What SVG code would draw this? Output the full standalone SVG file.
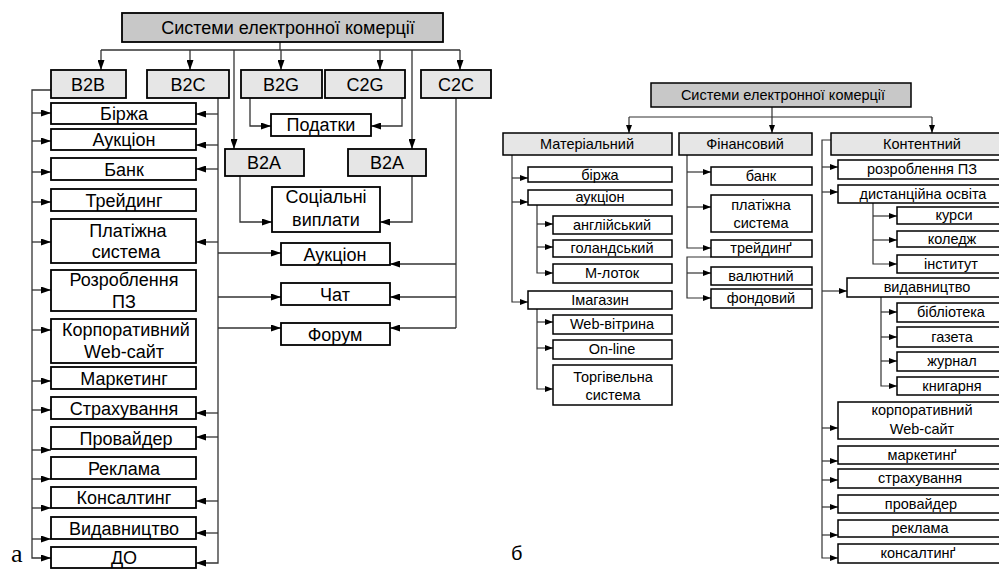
<svg xmlns="http://www.w3.org/2000/svg" width="999" height="569" viewBox="0 0 999 569">
<defs>
<marker id="a1" markerUnits="userSpaceOnUse" markerWidth="10" markerHeight="7" refX="10" refY="3.5" orient="auto"><path d="M0,0 L10,3.5 L0,7 z" fill="#000"/></marker>
<marker id="a2" markerUnits="userSpaceOnUse" markerWidth="8" markerHeight="6" refX="8" refY="3" orient="auto"><path d="M0,0 L8,3 L0,6 z" fill="#000"/></marker>
<style>
.L{font-family:"Liberation Sans",Arial,sans-serif;font-size:18px;text-anchor:middle;fill:#000}
.R{font-family:"Liberation Sans",Arial,sans-serif;font-size:14.5px;text-anchor:middle;fill:#000}
.b{fill:#fff;stroke:#000;stroke-width:1.8}
.h{fill:#e6e6e6;stroke:#000;stroke-width:1.8}
.t{fill:#c8c8c8;stroke:#000;stroke-width:1.8}
.rb{fill:#fff;stroke:#000;stroke-width:1.5}
.rh{fill:#e6e6e6;stroke:#000;stroke-width:1.5}
.rt{fill:#c8c8c8;stroke:#000;stroke-width:1.5}
.c1{fill:none;stroke:#333;stroke-width:1.3;marker-end:url(#a1)}
.c0{fill:none;stroke:#333;stroke-width:1.3}
.c2{fill:none;stroke:#333;stroke-width:1.2;marker-end:url(#a2)}
.c3{fill:none;stroke:#333;stroke-width:1.2}
</style>
</defs>

<g id="connectors-a">
<path class="c0" d="M280,42 V50 M101,50 H460"/>
<path class="c1" d="M101,50 V70"/><path class="c1" d="M190,50 V70"/><path class="c1" d="M281,50 V70"/><path class="c1" d="M380,50 V70"/><path class="c1" d="M460,50 V70"/>
<path class="c1" d="M234,50 V149"/><path class="c1" d="M412,50 V149"/>
<path class="c1" d="M250,98 V126 H271"/><path class="c1" d="M402,98 V126 H371"/>
<path class="c1" d="M240,176 V222 H272"/><path class="c1" d="M412,176 V222 H380"/>
<path class="c1" d="M51,90 H32 V558 H51"/>
<path class="c1" d="M32,113 H51"/><path class="c1" d="M32,141 H51"/><path class="c1" d="M32,172 H51"/><path class="c1" d="M32,202 H51"/><path class="c1" d="M32,242 H51"/><path class="c1" d="M32,290 H51"/><path class="c1" d="M32,330 H51"/><path class="c1" d="M32,381 H51"/><path class="c1" d="M32,410 H51"/><path class="c1" d="M32,450 H51"/><path class="c1" d="M32,479 H51"/><path class="c1" d="M32,508 H51"/><path class="c1" d="M32,539 H51"/>
<path class="c1" d="M218,98 V563 H196"/>
<path class="c1" d="M218,114 H196"/><path class="c1" d="M218,145 H196"/><path class="c1" d="M218,169 H196"/><path class="c1" d="M218,242 H196"/><path class="c1" d="M218,413 H196"/><path class="c1" d="M218,437 H196"/><path class="c1" d="M218,501 H196"/><path class="c1" d="M218,533 H196"/>
<path class="c1" d="M218,253 H281"/><path class="c1" d="M218,297 H281"/><path class="c1" d="M218,328 H281"/>
<path class="c0" d="M456,98 V328"/>
<path class="c1" d="M456,264 H390"/><path class="c1" d="M456,297 H390"/><path class="c1" d="M456,328 H390"/>
</g>

<g id="a-title"><rect class="t" x="122" y="13" width="321" height="29"/><text class="L" x="288" y="34">Системи електронної комерції</text></g>
<g id="a-b2b"><rect class="h" x="51" y="70" width="75" height="28"/><text class="L" x="88" y="91">B2B</text></g>
<g id="a-b2c"><rect class="h" x="147" y="70" width="82" height="28"/><text class="L" x="188" y="91">B2C</text></g>
<g id="a-b2g"><rect class="h" x="241" y="70" width="81" height="28"/><text class="L" x="281" y="91">B2G</text></g>
<g id="a-c2g"><rect class="h" x="325" y="70" width="80" height="28"/><text class="L" x="365" y="91">C2G</text></g>
<g id="a-c2c"><rect class="h" x="421" y="70" width="70" height="28"/><text class="L" x="456" y="91">C2C</text></g>
<g id="a-podatky"><rect class="b" x="271" y="114" width="100" height="22"/><text class="L" x="321" y="131">Податки</text></g>
<g id="a-b2a1"><rect class="h" x="225" y="149" width="79" height="27"/><text class="L" x="264" y="169">B2A</text></g>
<g id="a-b2a2"><rect class="h" x="348" y="149" width="78" height="27"/><text class="L" x="387" y="169">B2A</text></g>
<g id="a-social"><rect class="b" x="272" y="187" width="108" height="45"/><text class="L" x="326" y="203">Соціальні</text><text class="L" x="326" y="226">виплати</text></g>
<g id="a-auction2"><rect class="b" x="281" y="243" width="109" height="22"/><text class="L" x="335" y="261">Аукціон</text></g>
<g id="a-chat"><rect class="b" x="281" y="283" width="109" height="22"/><text class="L" x="335" y="301">Чат</text></g>
<g id="a-forum"><rect class="b" x="281" y="323" width="109" height="22"/><text class="L" x="335" y="341">Форум</text></g>

<g id="a-birzha"><rect class="b" x="51" y="103" width="145" height="21"/><text class="L" x="124" y="120">Біржа</text></g>
<g id="a-auction"><rect class="b" x="51" y="129" width="145" height="21"/><text class="L" x="124" y="146">Аукціон</text></g>
<g id="a-bank"><rect class="b" x="51" y="158" width="145" height="22"/><text class="L" x="124" y="176">Банк</text></g>
<g id="a-trading"><rect class="b" x="51" y="189" width="145" height="22"/><text class="L" x="124" y="207">Трейдинг</text></g>
<g id="a-payment"><rect class="b" x="51" y="219" width="145" height="44"/><text class="L" x="128" y="237">Платіжна</text><text class="L" x="126" y="258">система</text></g>
<g id="a-dev"><rect class="b" x="51" y="270" width="145" height="41"/><text class="L" x="124" y="286">Розроблення</text><text class="L" x="124" y="308">ПЗ</text></g>
<g id="a-corp"><rect class="b" x="51" y="319" width="145" height="44"/><text class="L" x="126" y="336">Корпоративний</text><text class="L" x="124" y="358">Web-сайт</text></g>
<g id="a-marketing"><rect class="b" x="51" y="367" width="145" height="22"/><text class="L" x="124" y="385">Маркетинг</text></g>
<g id="a-insurance"><rect class="b" x="51" y="397" width="145" height="22"/><text class="L" x="124" y="415">Страхування</text></g>
<g id="a-provider"><rect class="b" x="51" y="427" width="145" height="22"/><text class="L" x="126" y="445">Провайдер</text></g>
<g id="a-ads"><rect class="b" x="51" y="457" width="145" height="22"/><text class="L" x="124" y="475">Реклама</text></g>
<g id="a-consult"><rect class="b" x="51" y="487" width="145" height="21"/><text class="L" x="124" y="504">Консалтинг</text></g>
<g id="a-publish"><rect class="b" x="51" y="517" width="145" height="22"/><text class="L" x="124" y="535">Видавництво</text></g>
<g id="a-do"><rect class="b" x="51" y="547" width="145" height="21"/><text class="L" x="124" y="564">ДО</text></g>
<text x="11" y="562" style="font-family:'Liberation Serif','Times New Roman',serif;font-size:26px;fill:#000">а</text>

<g id="connectors-b">
<path class="c3" d="M772,107 V117 M629,117 H932"/>
<path class="c2" d="M629,117 V133"/><path class="c2" d="M772,117 V133"/><path class="c2" d="M932,117 V133"/>
<path class="c2" d="M512,155 V302 H528"/><path class="c2" d="M512,178 H528"/><path class="c2" d="M512,202 H528"/>
<path class="c2" d="M537,205 V273 H553"/><path class="c2" d="M537,224 H553"/><path class="c2" d="M537,247 H553"/>
<path class="c2" d="M537,309 V389 H553"/><path class="c2" d="M537,322 H553"/><path class="c2" d="M537,348 H553"/>
<path class="c2" d="M687,155 V248 H711"/><path class="c2" d="M687,172 H711"/><path class="c2" d="M687,207 H711"/>
<path class="c2" d="M711,257 H687 V298 H711"/><path class="c2" d="M687,273 H711"/>
<path class="c2" d="M831,140 H822 V558 H838"/>
<path class="c2" d="M822,167 H838"/><path class="c2" d="M822,192 H838"/><path class="c2" d="M822,291 H847"/><path class="c2" d="M822,428 H838"/><path class="c2" d="M822,461 H838"/><path class="c2" d="M822,480 H838"/><path class="c2" d="M822,507 H838"/><path class="c2" d="M822,535 H838"/>
<path class="c2" d="M873,203 V264 H897"/><path class="c2" d="M873,216 H897"/><path class="c2" d="M873,240 H897"/>
<path class="c2" d="M881,297 V386 H897"/><path class="c2" d="M881,312 H897"/><path class="c2" d="M881,337 H897"/><path class="c2" d="M881,361 H897"/>
</g>

<g id="b-title"><rect class="rt" x="651" y="83" width="260" height="24"/><text class="R" x="783" y="100">Системи електронної комерції</text></g>
<g id="b-material"><rect class="rh" x="503" y="133" width="169" height="22"/><text class="R" x="587" y="149">Матеріальний</text></g>
<g id="b-finance"><rect class="rh" x="679" y="133" width="133" height="22"/><text class="R" x="745" y="149">Фінансовий</text></g>
<g id="b-content"><rect class="rh" x="831" y="133" width="180" height="22"/><text class="R" x="922" y="149">Контентний</text></g>

<g id="b-birzha"><rect class="rb" x="528" y="167" width="144" height="15"/><text class="R" x="600" y="180">біржа</text></g>
<g id="b-auction"><rect class="rb" x="528" y="190" width="144" height="15"/><text class="R" x="600" y="202">аукціон</text></g>
<g id="b-english"><rect class="rb" x="553" y="216" width="119" height="18"/><text class="R" x="612" y="230">англійський</text></g>
<g id="b-dutch"><rect class="rb" x="553" y="240" width="119" height="17"/><text class="R" x="612" y="253">голандський</text></g>
<g id="b-mlotok"><rect class="rb" x="553" y="264" width="119" height="19"/><text class="R" x="612" y="278">М-лоток</text></g>
<g id="b-imag"><rect class="rb" x="528" y="291" width="144" height="18"/><text class="R" x="600" y="305">Імагазин</text></g>
<g id="b-web"><rect class="rb" x="553" y="315" width="119" height="19"/><text class="R" x="612" y="329">Web-вітрина</text></g>
<g id="b-online"><rect class="rb" x="553" y="340" width="119" height="19"/><text class="R" x="612" y="354">On-line</text></g>
<g id="b-trade"><rect class="rb" x="553" y="365" width="119" height="40"/><text class="R" x="613" y="382">Торгівельна</text><text class="R" x="613" y="400">система</text></g>

<g id="b-bank"><rect class="rb" x="711" y="167" width="101" height="18"/><text class="R" x="761" y="181">банк</text></g>
<g id="b-payment"><rect class="rb" x="711" y="195" width="101" height="37"/><text class="R" x="761" y="210">платіжна</text><text class="R" x="761" y="228">система</text></g>
<g id="b-trading"><rect class="rb" x="711" y="240" width="101" height="17"/><text class="R" x="761" y="253">трейдинґ</text></g>
<g id="b-currency"><rect class="rb" x="711" y="267" width="101" height="18"/><text class="R" x="761" y="281">валютний</text></g>
<g id="b-stock"><rect class="rb" x="711" y="289" width="101" height="19"/><text class="R" x="761" y="303">фондовий</text></g>

<g id="b-dev"><rect class="rb" x="838" y="160" width="170" height="19"/><text class="R" x="922" y="174">розроблення ПЗ</text></g>
<g id="b-distance"><rect class="rb" x="838" y="185" width="170" height="18"/><text class="R" x="923" y="199">дистанційна освіта</text></g>
<g id="b-courses"><rect class="rb" x="897" y="207" width="111" height="17"/><text class="R" x="954" y="220">курси</text></g>
<g id="b-college"><rect class="rb" x="897" y="231" width="111" height="16"/><text class="R" x="952" y="244">коледж</text></g>
<g id="b-institute"><rect class="rb" x="897" y="255" width="111" height="18"/><text class="R" x="951" y="269">інститут</text></g>
<g id="b-publish"><rect class="rb" x="847" y="278" width="161" height="19"/><text class="R" x="927" y="292">видавництво</text></g>
<g id="b-library"><rect class="rb" x="897" y="303" width="111" height="19"/><text class="R" x="951" y="317">бібліотека</text></g>
<g id="b-newspaper"><rect class="rb" x="897" y="327" width="111" height="20"/><text class="R" x="952" y="342">газета</text></g>
<g id="b-journal"><rect class="rb" x="897" y="352" width="111" height="19"/><text class="R" x="952" y="366">журнал</text></g>
<g id="b-bookshop"><rect class="rb" x="897" y="377" width="111" height="18"/><text class="R" x="952" y="391">книгарня</text></g>
<g id="b-corp"><rect class="rb" x="838" y="402" width="170" height="37"/><text class="R" x="922" y="415">корпоративний</text><text class="R" x="922" y="434">Web-сайт</text></g>
<g id="b-marketing"><rect class="rb" x="838" y="446" width="170" height="18"/><text class="R" x="922" y="460">маркетинґ</text></g>
<g id="b-insurance"><rect class="rb" x="838" y="469" width="170" height="19"/><text class="R" x="920" y="483">страхування</text></g>
<g id="b-provider"><rect class="rb" x="838" y="495" width="170" height="18"/><text class="R" x="921" y="509">провайдер</text></g>
<g id="b-ads"><rect class="rb" x="838" y="520" width="170" height="17"/><text class="R" x="920" y="533">реклама</text></g>
<g id="b-consult"><rect class="rb" x="838" y="544" width="170" height="19"/><text class="R" x="918" y="558">консалтинґ</text></g>
<text x="511" y="560" style="font-family:'Liberation Sans',Arial,sans-serif;font-size:20px;fill:#000">б</text>
</svg>
